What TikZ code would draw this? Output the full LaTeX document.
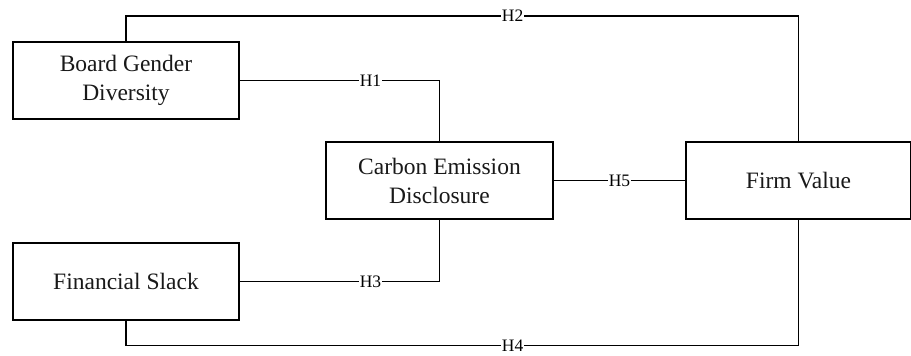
\documentclass[tikz,border=0pt]{standalone}
\usepackage{fontspec}
\setmainfont{Liberation Serif}
\begin{document}
\begin{tikzpicture}[x=1pt,y=-1pt,
  box/.style={draw, line width=1.2pt, rectangle, minimum height=77pt, align=center, inner sep=0pt,
    font=\fontsize{23.5}{29}\selectfont, text=black!90},
  lbl/.style={fill=white, inner sep=0.5pt, font=\fontsize{17.5}{20}\selectfont},
  conn/.style={line width=1.2pt}]
\useasboundingbox (0,0) rectangle (911,356);
\node[box, minimum width=226pt] (bgd) at (126,80.5) {Board Gender\\Diversity};
\node[box, minimum width=226pt] (fs) at (126,281.5) {Financial Slack};
\node[box, minimum width=227pt] (ced) at (439.5,180.5) {Carbon Emission\\Disclosure};
\node[box, minimum width=225pt] (fv) at (798.5,180.5) {Firm Value};
\coordinate (top) at (0,16);
\coordinate (bot) at (0,345.5);
\draw[conn] (bgd.north) -- (bgd.north |- top) -- node[lbl, pos=0.575]{H2} (fv.north |- top) -- (fv.north);
\draw[conn] (bgd.east) -- node[lbl, pos=0.655]{H1} (ced.north |- bgd.east) -- (ced.north);
\draw[conn] (fs.east) -- node[lbl, pos=0.655]{H3} (ced.south |- fs.east) -- (ced.south);
\draw[conn] (fs.south) -- (fs.south |- bot) -- node[lbl, pos=0.575]{H4} (fv.south |- bot) -- (fv.south);
\draw[conn] (ced.east) -- node[lbl]{H5} (fv.west);
\end{tikzpicture}
\end{document}
